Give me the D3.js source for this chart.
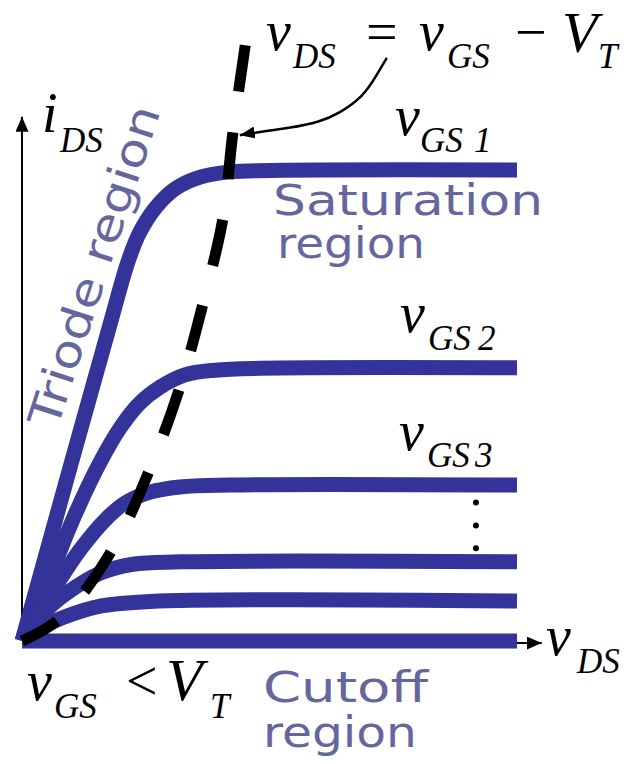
<!DOCTYPE html>
<html>
<head>
<meta charset="utf-8">
<script src="https://cdn.jsdelivr.net/npm/d3@7"></script>
<style>
  html, body { margin: 0; padding: 0; background: #ffffff; }
  svg { display: block; }
</style>
</head>
<body>
<svg id="chart" width="639" height="764"></svg>
<script>
// MOSFET output characteristics: drain current i_DS against v_DS
// for a family of gate voltages, with the triode / saturation boundary.

// v_DS and i_DS in arbitrary units (0..100 of the drawn span)
const vgs1Curve = [[0,0],[10.7,40.6],[18.2,68.8],[21.4,80.5],[23.8,86.8],[26.9,91.9],[30.9,96.0],[36.0,98.5],[42.0,99.6],[50.1,99.9],[100,100]];
const vgs2Curve = [[0,0],[5.7,14.0],[10.7,26.8],[15.8,38.0],[19.8,45.2],[23.8,50.5],[27.9,53.9],[32.9,56.5],[39.0,57.5],[48.1,57.9],[100,58.0]];
const vgs3Curve = [[0,0],[5.7,9.8],[11.7,19.3],[16.8,25.7],[20.8,29.3],[25.9,31.6],[31.9,32.7],[42.0,33.1],[100,33.1]];
const vgs4Curve = [[0,0],[4.6,6.2],[9.1,10.2],[15.8,14.4],[22.4,16.3],[31.9,16.8],[100,16.8]];
const vgs5Curve = [[0,0],[4.6,3.2],[9.1,5.3],[15.8,7.4],[25.9,8.4],[100,8.5]];
const cutoffCurve = [[0,0],[100,0]];

// v_DS = v_GS - V_T boundary, drawn from the top down
const boundary = [[45.1,126.5],[42.6,107.9],[40.6,89.8],[36.6,71.8],[31.9,53.9],[25.9,36.7],[18.4,19.7],[8.1,5.1],[0,0]];

// annotation arrow from the equation to the boundary
const pointer = [[73.7,123.8],[71.7,120.2],[68.9,115.5],[64.2,112.1],[60.2,110.2],[54.1,108.9],[46.6,107.9],[44.0,107.4]];

const axisEnds = { vds: 105, ids: 111.3 };
const ellipsisLevels = [29.4, 24.5, 19.7];
const ellipsisV = 91.7;

const curves = [vgs1Curve, vgs2Curve, vgs3Curve, vgs4Curve, vgs5Curve, cutoffCurve];

const BLUE = "#333399";
const PURPLE = "#66669f";
const serif = "'Liberation Serif','Times New Roman',serif";
const sans = "'DejaVu Sans', Verdana, sans-serif";

const svg = d3.select("#chart");
const x = d3.scaleLinear().domain([0, 100]).range([22, 517]);
const y = d3.scaleLinear().domain([0, 100]).range([641, 170]);

const defs = svg.append("defs");
function arrowMarker(id, len, wid) {
  defs.append("marker")
    .attr("id", id)
    .attr("markerUnits", "userSpaceOnUse")
    .attr("viewBox", `0 0 ${len} ${wid}`)
    .attr("refX", len).attr("refY", wid / 2)
    .attr("markerWidth", len).attr("markerHeight", wid)
    .attr("orient", "auto")
    .append("path")
    .attr("d", `M0,0 L${len},${wid / 2} L0,${wid} Z`)
    .attr("fill", "#000");
}
arrowMarker("axisHead", 15, 13);
arrowMarker("pointerHead", 15, 12);

// axes
svg.append("line")
  .attr("x1", x(0)).attr("y1", y(0))
  .attr("x2", x(0)).attr("y2", y(axisEnds.ids))
  .attr("stroke", "#000").attr("stroke-width", 2)
  .attr("marker-end", "url(#axisHead)");
svg.append("line")
  .attr("x1", x(0)).attr("y1", y(0) + 2)
  .attr("x2", x(axisEnds.vds)).attr("y2", y(0) + 2)
  .attr("stroke", "#000").attr("stroke-width", 2)
  .attr("marker-end", "url(#axisHead)");

// characteristic curves
const line = d3.line()
  .x(d => x(d[0])).y(d => y(d[1]))
  .curve(d3.curveCatmullRom.alpha(0.5));

svg.append("g").selectAll("path")
  .data(curves).join("path")
  .attr("d", d => line(d))
  .attr("fill", "none")
  .attr("stroke", BLUE)
  .attr("stroke-width", 15)
  .attr("stroke-linejoin", "round");

// saturation boundary
svg.append("path")
  .attr("d", line(boundary))
  .attr("fill", "none")
  .attr("stroke", "#000")
  .attr("stroke-width", 11)
  .attr("stroke-dasharray", "47 41");

// pointer from the equation
svg.append("path")
  .attr("d", d3.line().x(d => x(d[0])).y(d => y(d[1])).curve(d3.curveBasis)(pointer))
  .attr("fill", "none")
  .attr("stroke", "#000")
  .attr("stroke-width", 2.5)
  .attr("marker-end", "url(#pointerHead)");

// ellipsis dots for further curves
svg.append("g").selectAll("circle")
  .data(ellipsisLevels).join("circle")
  .attr("cx", x(ellipsisV)).attr("cy", d => y(d))
  .attr("r", 3).attr("fill", "#000");

// math labels (italic serif with subscripts)
const mathParts = [
  // v_DS = v_GS - V_T
  { t: "v", x: 266, y: 50, s: 56, i: true },
  { t: "DS", x: 293, y: 68, s: 35, i: true },
  { t: "=", x: 366, y: 51, s: 56, i: false },
  { t: "v", x: 419, y: 50, s: 56, i: true },
  { t: "GS", x: 447, y: 68, s: 35, i: true },
  { t: "\u2212", x: 515, y: 51, s: 56, i: false },
  { t: "V", x: 562, y: 52, s: 58, i: true },
  { t: "T", x: 598, y: 68, s: 35, i: true },
  // i_DS
  { t: "i", x: 42, y: 132, s: 56, i: true },
  { t: "DS", x: 60, y: 152, s: 35, i: true },
  // v_GS1
  { t: "v", x: 395, y: 135, s: 56, i: true },
  { t: "GS", x: 420, y: 152, s: 35, i: true },
  { t: "1", x: 474, y: 152, s: 35, i: true },
  // v_GS2
  { t: "v", x: 400, y: 332, s: 56, i: true },
  { t: "GS", x: 428, y: 350, s: 35, i: true },
  { t: "2", x: 478, y: 350, s: 35, i: true },
  // v_GS3
  { t: "v", x: 399, y: 450, s: 56, i: true },
  { t: "GS", x: 427, y: 467, s: 35, i: true },
  { t: "3", x: 475, y: 467, s: 35, i: true },
  // v_DS axis title
  { t: "v", x: 546, y: 655, s: 56, i: true },
  { t: "DS", x: 577, y: 673, s: 35, i: true },
  // v_GS < V_T
  { t: "v", x: 27, y: 700, s: 56, i: true },
  { t: "GS", x: 54, y: 718, s: 35, i: true },
  { t: "<", x: 126, y: 700, s: 56, i: false },
  { t: "V", x: 166, y: 700, s: 60, i: true },
  { t: "T", x: 210, y: 718, s: 35, i: true }
];

svg.append("g").selectAll("text")
  .data(mathParts).join("text")
  .attr("x", d => d.x).attr("y", d => d.y)
  .attr("font-family", serif)
  .attr("font-size", d => d.s)
  .attr("font-style", d => d.i ? "italic" : "normal")
  .attr("fill", "#000")
  .text(d => d.t);

// region names
const regionLabels = [
  { t: "Saturation", x: 273, y: 215, len: 270, rot: 0, s: 42 },
  { t: "region", x: 277, y: 258, len: 148, rot: 0, s: 42 },
  { t: "Cutoff", x: 263, y: 702, len: 165, rot: 0, s: 42 },
  { t: "region", x: 263, y: 747, len: 154, rot: 0, s: 42 },
  { t: "Triode region", x: 57, y: 430, len: 335, rot: -72, s: 44 }
];

svg.append("g").selectAll("text")
  .data(regionLabels).join("text")
  .attr("transform", d => `translate(${d.x},${d.y}) rotate(${d.rot})`)
  .attr("font-family", sans)
  .attr("font-size", d => d.s)
  .attr("fill", PURPLE)
  .attr("textLength", d => d.len)
  .attr("lengthAdjust", "spacingAndGlyphs")
  .text(d => d.t);
</script>
</body>
</html>
